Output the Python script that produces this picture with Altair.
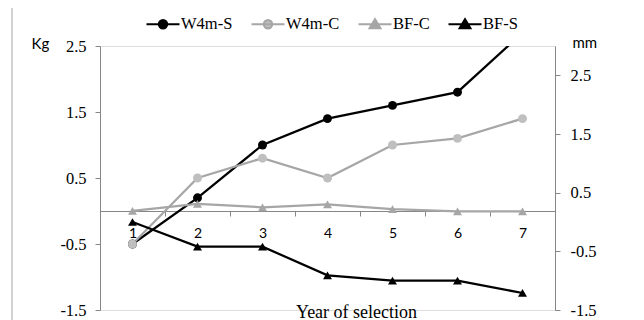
import altair as alt
import pandas as pd

years = [1, 2, 3, 4, 5, 6, 7]
w4m_s = [-0.5, 0.2, 1.0, 1.4, 1.6, 1.8, 2.7]
w4m_c = [-0.5, 0.5, 0.8, 0.5, 1.0, 1.1, 1.4]
bf_c = [0.19, 0.31, 0.25, 0.30, 0.22, 0.18, 0.18]
bf_s = [0.0, -0.42, -0.42, -0.91, -1.0, -1.0, -1.21]

series = ["W4m-S", "W4m-C", "BF-C", "BF-S"]
line_colors = ["#000000", "#A6A6A6", "#A6A6A6", "#000000"]
marker_colors = ["#000000", "#BFBFBF", "#A6A6A6", "#000000"]
left_ticks = [-1.5, -0.5, 0.5, 1.5, 2.5]
right_ticks = [-1.5, -0.5, 0.5, 1.5, 2.5]

kg = pd.DataFrame({
    "year": years * 2,
    "value": w4m_s + w4m_c,
    "series": ["W4m-S"] * 7 + ["W4m-C"] * 7,
})
mm = pd.DataFrame({
    "year": years * 2,
    "value": bf_c + bf_s,
    "series": ["BF-C"] * 7 + ["BF-S"] * 7,
})

AX = "#868686"
SERIF = "Liberation Serif"
SANS = "Lato"
LABEL_EXPR = "datum.value < 0 ? '-' + format(-datum.value, '.1f') : format(datum.value, '.1f')"

circle_path = "M-1,0L1,0M-0.25,0A0.25,0.25,0,1,1,0.25,0A0.25,0.25,0,1,1,-0.25,0Z"
tri_path = "M-1,0L1,0M0,-0.3L0.32,0.24L-0.32,0.24Z"
shape_paths = [circle_path, circle_path, tri_path, tri_path]

stroke_scale = alt.Scale(domain=series, range=line_colors)
fill_scale = alt.Scale(domain=series, range=marker_colors)

x_enc = alt.X(
    "year:O",
    scale=alt.Scale(type="band", domain=years, paddingInner=0, paddingOuter=0),
    axis=alt.Axis(
        orient="bottom", offset=-99, tickBand="extent", labelAngle=0,
        domainColor=AX, tickColor=AX, tickSize=5, grid=False,
        labelFont=SANS, labelFontSize=14, labelColor="black",
        labelBaseline="middle", labelPadding=17,
        title="Year of selection", titleFont=SERIF, titleFontSize=18,
        titleFontWeight="normal", titleColor="black",
        titleX=256, titleY=106, titleAlign="center", titleBaseline="alphabetic",
    ),
)

y_left = alt.Y(
    "value:Q",
    scale=alt.Scale(domain=[-1.5, 2.5], nice=False, zero=False),
    axis=alt.Axis(
        orient="left", values=left_ticks, labelExpr=LABEL_EXPR, grid=False,
        domainColor=AX, tickColor=AX, tickSize=5,
        labelFont=SERIF, labelFontSize=16.5, labelColor="black", labelPadding=9,
        title="Kg", titleAngle=0, titleX=-69, titleY=-3, titleAlign="left",
        titleBaseline="middle", titleFont=SANS, titleFontSize=15,
        titleFontWeight="normal", titleColor="black",
    ),
)

y_right = alt.Y(
    "value:Q",
    scale=alt.Scale(domain=[-1.5, 3.0], nice=False, zero=False),
    axis=alt.Axis(
        orient="right", values=right_ticks, labelExpr=LABEL_EXPR, grid=False,
        domainColor=AX, tickColor=AX, tickSize=5,
        labelFont=SERIF, labelFontSize=16.5, labelColor="black", labelPadding=10,
        title="mm", titleAngle=0, titleX=17, titleY=-4, titleAlign="left",
        titleBaseline="middle", titleFont=SANS, titleFontSize=15,
        titleFontWeight="normal", titleColor="black",
    ),
)

leg = alt.Legend(
    title=None, orient="none", legendX=45, legendY=-40, direction="horizontal",
    symbolSize=1089, symbolStrokeWidth=2.2, symbolOpacity=1,
    labelFont=SERIF, labelFontSize=16.5,
    labelColor="black", labelOffset=0, columnPadding=14, padding=0,
)

base_kg = alt.Chart(kg)
base_mm = alt.Chart(mm)

legend_layer = base_kg.transform_filter("false").mark_point(
    filled=True, opacity=1
).encode(
    fill=alt.Fill("series:N", scale=fill_scale, legend=leg),
    stroke=alt.Stroke("series:N", scale=stroke_scale, legend=leg),
    shape=alt.Shape("series:N", scale=alt.Scale(domain=series, range=shape_paths), legend=leg),
)
line_kg = base_kg.mark_line(strokeWidth=2.25, clip=True).encode(
    x=x_enc, y=y_left,
    stroke=alt.Stroke("series:N", scale=stroke_scale),
)
pts_kg = base_kg.mark_circle(size=80, opacity=1, clip=True).encode(
    x=x_enc, y=y_left,
    fill=alt.Fill("series:N", scale=fill_scale),
)
border = base_kg.mark_rule(color="#A6A6A6", strokeWidth=1).encode(
    x=alt.value(-88), y=alt.value(-38), y2=alt.value(274)
).transform_filter("datum.year == 1 && datum.series == 'W4m-S'")

line_mm = base_mm.mark_line(strokeWidth=2.25).encode(
    x=x_enc, y=y_right,
    stroke=alt.Stroke("series:N", scale=stroke_scale),
)
pts_mm = base_mm.mark_point(shape="triangle-up", filled=True, size=80, opacity=1).encode(
    x=x_enc, y=y_right,
    fill=alt.Fill("series:N", scale=fill_scale),
)

left = alt.layer(legend_layer, line_kg, pts_kg, border)
right = alt.layer(line_mm, pts_mm)

chart = alt.layer(left, right).resolve_scale(y="independent").properties(
    width=455, height=264,
    autosize=alt.AutoSizeParams(type="none"),
    padding={"left": 92, "top": 38, "right": 81, "bottom": 10},
).configure_view(stroke=None).configure(background="white")

chart.save("out.html", embed_options={"renderer": "svg", "actions": False})
